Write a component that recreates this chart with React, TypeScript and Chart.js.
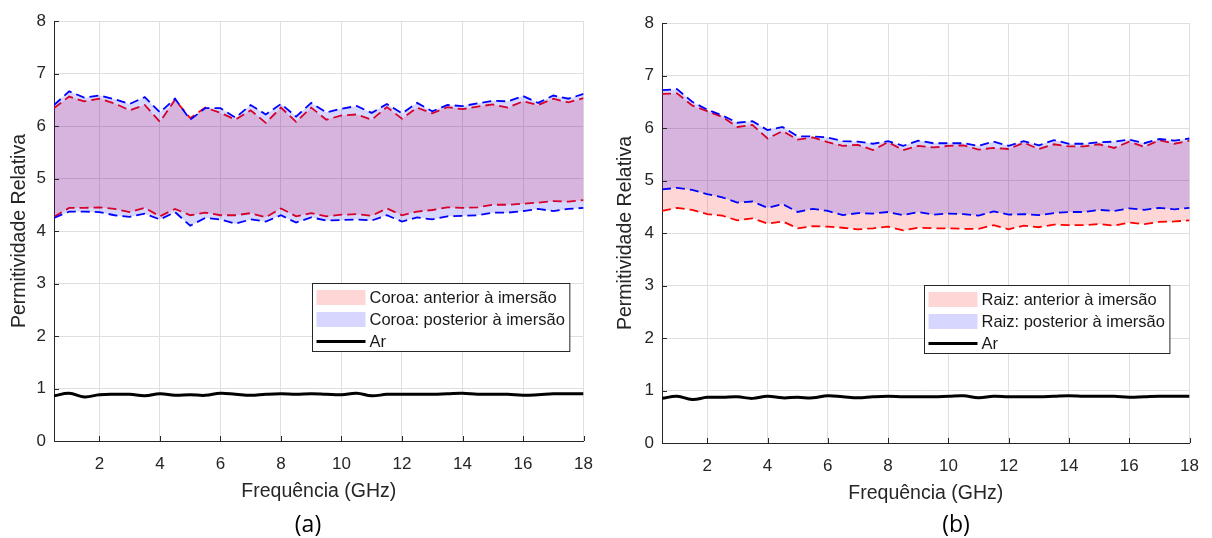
import React, { useEffect, useRef } from "react";
import { Chart, registerables } from "chart.js";

Chart.register(...registerables);

// ---------- data ----------
const FREQ = [
  0.5, 1, 1.5, 2, 2.5, 3, 3.5, 4, 4.5, 5, 5.5, 6, 6.5, 7, 7.5, 8, 8.5, 9,
  9.5, 10, 10.5, 11, 11.5, 12, 12.5, 13, 13.5, 14, 14.5, 15, 15.5, 16, 16.5, 17, 17.5, 18,
];
const X_TICKS = [2, 4, 6, 8, 10, 12, 14, 16, 18];
const Y_TICKS = [0, 1, 2, 3, 4, 5, 6, 7, 8];

// (a) Coroa
const COROA_ANT_SUP = [
  6.34, 6.56, 6.47, 6.52, 6.43, 6.3, 6.4, 6.08, 6.5, 6.15, 6.35, 6.25, 6.12, 6.3, 6.06, 6.35, 6.08, 6.35,
  6.12, 6.2, 6.22, 6.12, 6.36, 6.14, 6.35, 6.24, 6.36, 6.32, 6.37, 6.41, 6.35, 6.47, 6.4, 6.52, 6.45, 6.53,
];
const COROA_ANT_INF = [
  4.27, 4.44, 4.44, 4.45, 4.42, 4.36, 4.44, 4.28, 4.42, 4.3, 4.35, 4.3, 4.3, 4.34, 4.26, 4.43, 4.28, 4.34,
  4.28, 4.31, 4.32, 4.29, 4.43, 4.3, 4.37, 4.4, 4.45, 4.44, 4.45, 4.5, 4.5, 4.52, 4.54, 4.57, 4.56, 4.59,
];
const COROA_POS_SUP = [
  6.4, 6.66, 6.54, 6.58, 6.51, 6.42, 6.55, 6.26, 6.52, 6.12, 6.34, 6.34, 6.16, 6.4, 6.22, 6.42, 6.18, 6.44,
  6.26, 6.33, 6.38, 6.25, 6.42, 6.24, 6.44, 6.28, 6.4, 6.38, 6.43, 6.48, 6.47, 6.57, 6.44, 6.58, 6.52, 6.61,
];
const COROA_POS_INF = [
  4.25, 4.37, 4.37, 4.36, 4.3, 4.27, 4.33, 4.22, 4.36, 4.1, 4.25, 4.22, 4.14, 4.22, 4.18, 4.3, 4.16, 4.26,
  4.2, 4.21, 4.22, 4.2, 4.3, 4.18, 4.26, 4.22, 4.28, 4.29, 4.3, 4.35, 4.35, 4.38, 4.42, 4.38, 4.42, 4.44,
];
const AR_A = [
  0.86, 0.91, 0.84, 0.88, 0.89, 0.89, 0.86, 0.9, 0.87, 0.88, 0.87, 0.91, 0.89, 0.87, 0.89, 0.9, 0.89, 0.9,
  0.89, 0.88, 0.91, 0.86, 0.89, 0.89, 0.89, 0.89, 0.9, 0.91, 0.89, 0.89, 0.89, 0.87, 0.88, 0.9, 0.9, 0.9,
];

// (b) Raiz
const RAIZ_ANT_SUP = [
  6.65, 6.66, 6.43, 6.32, 6.21, 6.02, 6.06, 5.8, 5.94, 5.78, 5.82, 5.73, 5.66, 5.68, 5.58, 5.73, 5.58, 5.66,
  5.63, 5.66, 5.67, 5.59, 5.62, 5.6, 5.72, 5.6, 5.69, 5.65, 5.65, 5.69, 5.62, 5.74, 5.64, 5.77, 5.7, 5.76,
];
const RAIZ_ANT_INF = [
  4.42, 4.48, 4.44, 4.36, 4.33, 4.24, 4.28, 4.18, 4.22, 4.09, 4.13, 4.12, 4.1, 4.07, 4.09, 4.12, 4.05, 4.1,
  4.09, 4.09, 4.08, 4.08, 4.15, 4.07, 4.14, 4.11, 4.16, 4.15, 4.15, 4.17, 4.14, 4.2, 4.17, 4.21, 4.22, 4.24,
];
const RAIZ_POS_SUP = [
  6.72, 6.74, 6.5, 6.35, 6.24, 6.1, 6.13, 5.96, 6.02, 5.84, 5.84, 5.82, 5.75, 5.74, 5.7, 5.75, 5.66, 5.76,
  5.71, 5.71, 5.71, 5.66, 5.74, 5.66, 5.75, 5.67, 5.77, 5.7, 5.7, 5.73, 5.74, 5.78, 5.71, 5.79, 5.76, 5.8,
];
const RAIZ_POS_INF = [
  4.83, 4.86, 4.82, 4.74, 4.68, 4.58, 4.6, 4.48, 4.55, 4.4, 4.46, 4.42, 4.34, 4.38, 4.37, 4.4, 4.34, 4.4,
  4.35, 4.37, 4.36, 4.33, 4.41, 4.35, 4.36, 4.34, 4.38, 4.4, 4.4, 4.44, 4.42, 4.47, 4.44, 4.48, 4.45, 4.48,
];
const AR_B = [
  0.85, 0.89, 0.83, 0.87, 0.87, 0.88, 0.85, 0.89, 0.86, 0.87, 0.86, 0.9, 0.88, 0.86, 0.88, 0.89, 0.88, 0.88,
  0.88, 0.89, 0.9, 0.86, 0.89, 0.88, 0.88, 0.88, 0.89, 0.9, 0.89, 0.89, 0.89, 0.87, 0.88, 0.89, 0.89, 0.89,
];

const LEGEND_A = ["Coroa: anterior à imersão", "Coroa: posterior à imersão", "Ar"];
const LEGEND_B = ["Raiz: anterior à imersão", "Raiz: posterior à imersão", "Ar"];

// ---------- styling ----------
const FONT = '"Liberation Sans", Arial, Helvetica, sans-serif';
const AXIS = "#262626";
const RED_FILL = "rgba(255,0,0,0.16)";
const BLUE_FILL = "rgba(0,0,255,0.16)";
const W = 606;
const H = 538;

const pts = (ys: number[]) => FREQ.map((x, i) => ({ x, y: ys[i] }));

const boxLegend = {
  id: "boxLegend",
  afterDraw(chart: any, _args: any, opts: any) {
    const { ctx, chartArea } = chart;
    const x0 = Math.round(chartArea.left + opts.dx) + 0.5;
    const y0 = Math.round(chartArea.top + opts.dy) + 0.5;
    ctx.save();
    ctx.font = `16.5px ${FONT}`;
    let tw = 0;
    opts.labels.forEach((l: string) => (tw = Math.max(tw, ctx.measureText(l).width)));
    const w = 57 + tw + 5;
    const h = 68;
    ctx.fillStyle = "#fff";
    ctx.fillRect(x0, y0, w, h);
    ctx.strokeStyle = AXIS;
    ctx.lineWidth = 1;
    ctx.strokeRect(x0, y0, w, h);
    const rows = [14, 36, 58];
    const fills = [RED_FILL, BLUE_FILL];
    rows.forEach((ry, i) => {
      const cy = y0 + ry;
      if (i < 2) {
        ctx.fillStyle = fills[i];
        ctx.fillRect(x0 + 4, cy - 7.5, 49, 15);
      } else {
        ctx.strokeStyle = "#000";
        ctx.lineWidth = 3;
        ctx.beginPath();
        ctx.moveTo(x0 + 4, cy);
        ctx.lineTo(x0 + 53, cy);
        ctx.stroke();
      }
      ctx.fillStyle = "#1a1a1a";
      ctx.textBaseline = "middle";
      ctx.textAlign = "left";
      ctx.fillText(opts.labels[i], x0 + 57, cy + 1);
    });
    ctx.restore();
  },
};

const innerTicks = {
  id: "innerTicks",
  afterDatasetsDraw(chart: any) {
    const { ctx, chartArea, scales } = chart;
    ctx.save();
    ctx.strokeStyle = AXIS;
    ctx.lineWidth = 1;
    ctx.beginPath();
    X_TICKS.forEach((v) => {
      const px = Math.round(scales.x.getPixelForValue(v)) + 0.5;
      ctx.moveTo(px, chartArea.bottom);
      ctx.lineTo(px, chartArea.bottom - 5);
    });
    Y_TICKS.forEach((v) => {
      const py = Math.round(scales.y.getPixelForValue(v)) + 0.5;
      ctx.moveTo(chartArea.left, py);
      ctx.lineTo(chartArea.left + 5, py);
    });
    ctx.stroke();
    ctx.restore();
  },
};

type Panel = {
  antSup: number[];
  antInf: number[];
  posSup: number[];
  posInf: number[];
  ar: number[];
  labels: string[];
  area: { left: number; top: number; right: number; bottom: number };
  legend: { dx: number; dy: number };
};

function makeConfig(p: Panel): any {
  const xH = 62;
  const dashed = (color: string, data: number[], fill: any, bg: string) => ({
    data: pts(data),
    borderColor: color,
    backgroundColor: bg,
    borderWidth: 1.8,
    borderDash: [9, 5],
    pointRadius: 0,
    tension: 0,
    fill,
  });
  return {
    type: "line",
    data: {
      datasets: [
        {
          label: "Ar",
          data: pts(p.ar),
          borderColor: "#000",
          borderWidth: 3,
          pointRadius: 0,
          tension: 0.4,
          fill: false,
        },
        dashed("#0000ff", p.posSup, false, BLUE_FILL),
        dashed("#0000ff", p.posInf, "-1", BLUE_FILL),
        dashed("#ff0000", p.antSup, false, RED_FILL),
        dashed("#ff0000", p.antInf, "-1", RED_FILL),
      ],
    },
    options: {
      responsive: false,
      animation: false,
      events: [],
      layout: {
        padding: {
          left: 0,
          top: p.area.top,
          right: W - p.area.right,
          bottom: H - p.area.bottom - xH,
        },
      },
      plugins: {
        legend: { display: false },
        tooltip: { enabled: false },
        boxLegend: { labels: p.labels, dx: p.legend.dx, dy: p.legend.dy },
      },
      scales: {
        x: {
          type: "linear",
          min: 0.5,
          max: 18,
          afterBuildTicks: (s: any) => {
            s.ticks = X_TICKS.map((v) => ({ value: v }));
          },
          afterFit: (s: any) => {
            s.height = xH;
          },
          grid: { color: "#dfdfdf", lineWidth: 1, drawTicks: false },
          border: { color: AXIS, width: 1 },
          ticks: { font: { family: FONT, size: 17 }, color: AXIS, padding: 13, maxRotation: 0 },
          title: {
            display: true,
            text: "Frequência (GHz)",
            font: { family: FONT, size: 19.5 },
            color: AXIS,
            padding: { top: 0, bottom: 0 },
          },
        },
        y: {
          min: 0,
          max: 8,
          afterBuildTicks: (s: any) => {
            s.ticks = Y_TICKS.map((v) => ({ value: v }));
          },
          afterFit: (s: any) => {
            s.width = p.area.left;
          },
          grid: { color: "#dfdfdf", lineWidth: 1, drawTicks: false },
          border: { color: AXIS, width: 1 },
          ticks: { font: { family: FONT, size: 17 }, color: AXIS, padding: 8 },
          title: {
            display: true,
            text: "Permitividade Relativa",
            font: { family: FONT, size: 19.5 },
            color: AXIS,
            padding: { top: 8, bottom: 0 },
          },
        },
      },
    },
    plugins: [innerTicks, boxLegend],
  };
}

function Panel({ panel, left }: { panel: Panel; left: number }) {
  const ref = useRef<HTMLCanvasElement | null>(null);
  useEffect(() => {
    if (!ref.current) return;
    const chart = new Chart(ref.current, makeConfig(panel));
    return () => chart.destroy();
  }, [panel]);
  return (
    <div style={{ position: "absolute", left, top: 0, width: W, height: H }}>
      <canvas ref={ref} width={W} height={H} style={{ width: W, height: H, display: "block" }} />
    </div>
  );
}

const PANEL_A: Panel = {
  antSup: COROA_ANT_SUP,
  antInf: COROA_ANT_INF,
  posSup: COROA_POS_SUP,
  posInf: COROA_POS_INF,
  ar: AR_A,
  labels: LEGEND_A,
  area: { left: 54, top: 21, right: 590, bottom: 441 },
  legend: { dx: 258, dy: 262 },
};
const PANEL_B: Panel = {
  antSup: RAIZ_ANT_SUP,
  antInf: RAIZ_ANT_INF,
  posSup: RAIZ_POS_SUP,
  posInf: RAIZ_POS_INF,
  ar: AR_B,
  labels: LEGEND_B,
  area: { left: 56, top: 23, right: 592, bottom: 443 },
  legend: { dx: 262, dy: 262 },
};

const captionStyle = (cx: number): React.CSSProperties => ({
  position: "absolute",
  left: cx,
  top: 508,
  transform: "translateX(-50%)",
  fontFamily: '"Open Sans", "Noto Sans", sans-serif',
  fontSize: 23,
  lineHeight: "30px",
  color: "#000",
  whiteSpace: "nowrap",
});

export default function App() {
  return (
    <div
      style={{
        position: "fixed",
        left: 0,
        top: 0,
        width: 1212,
        height: 538,
        background: "#fff",
        overflow: "hidden",
      }}
    >
      <Panel panel={PANEL_A} left={0} />
      <Panel panel={PANEL_B} left={606} />
      <div style={captionStyle(308)}>(a)</div>
      <div style={captionStyle(956)}>(b)</div>
    </div>
  );
}
